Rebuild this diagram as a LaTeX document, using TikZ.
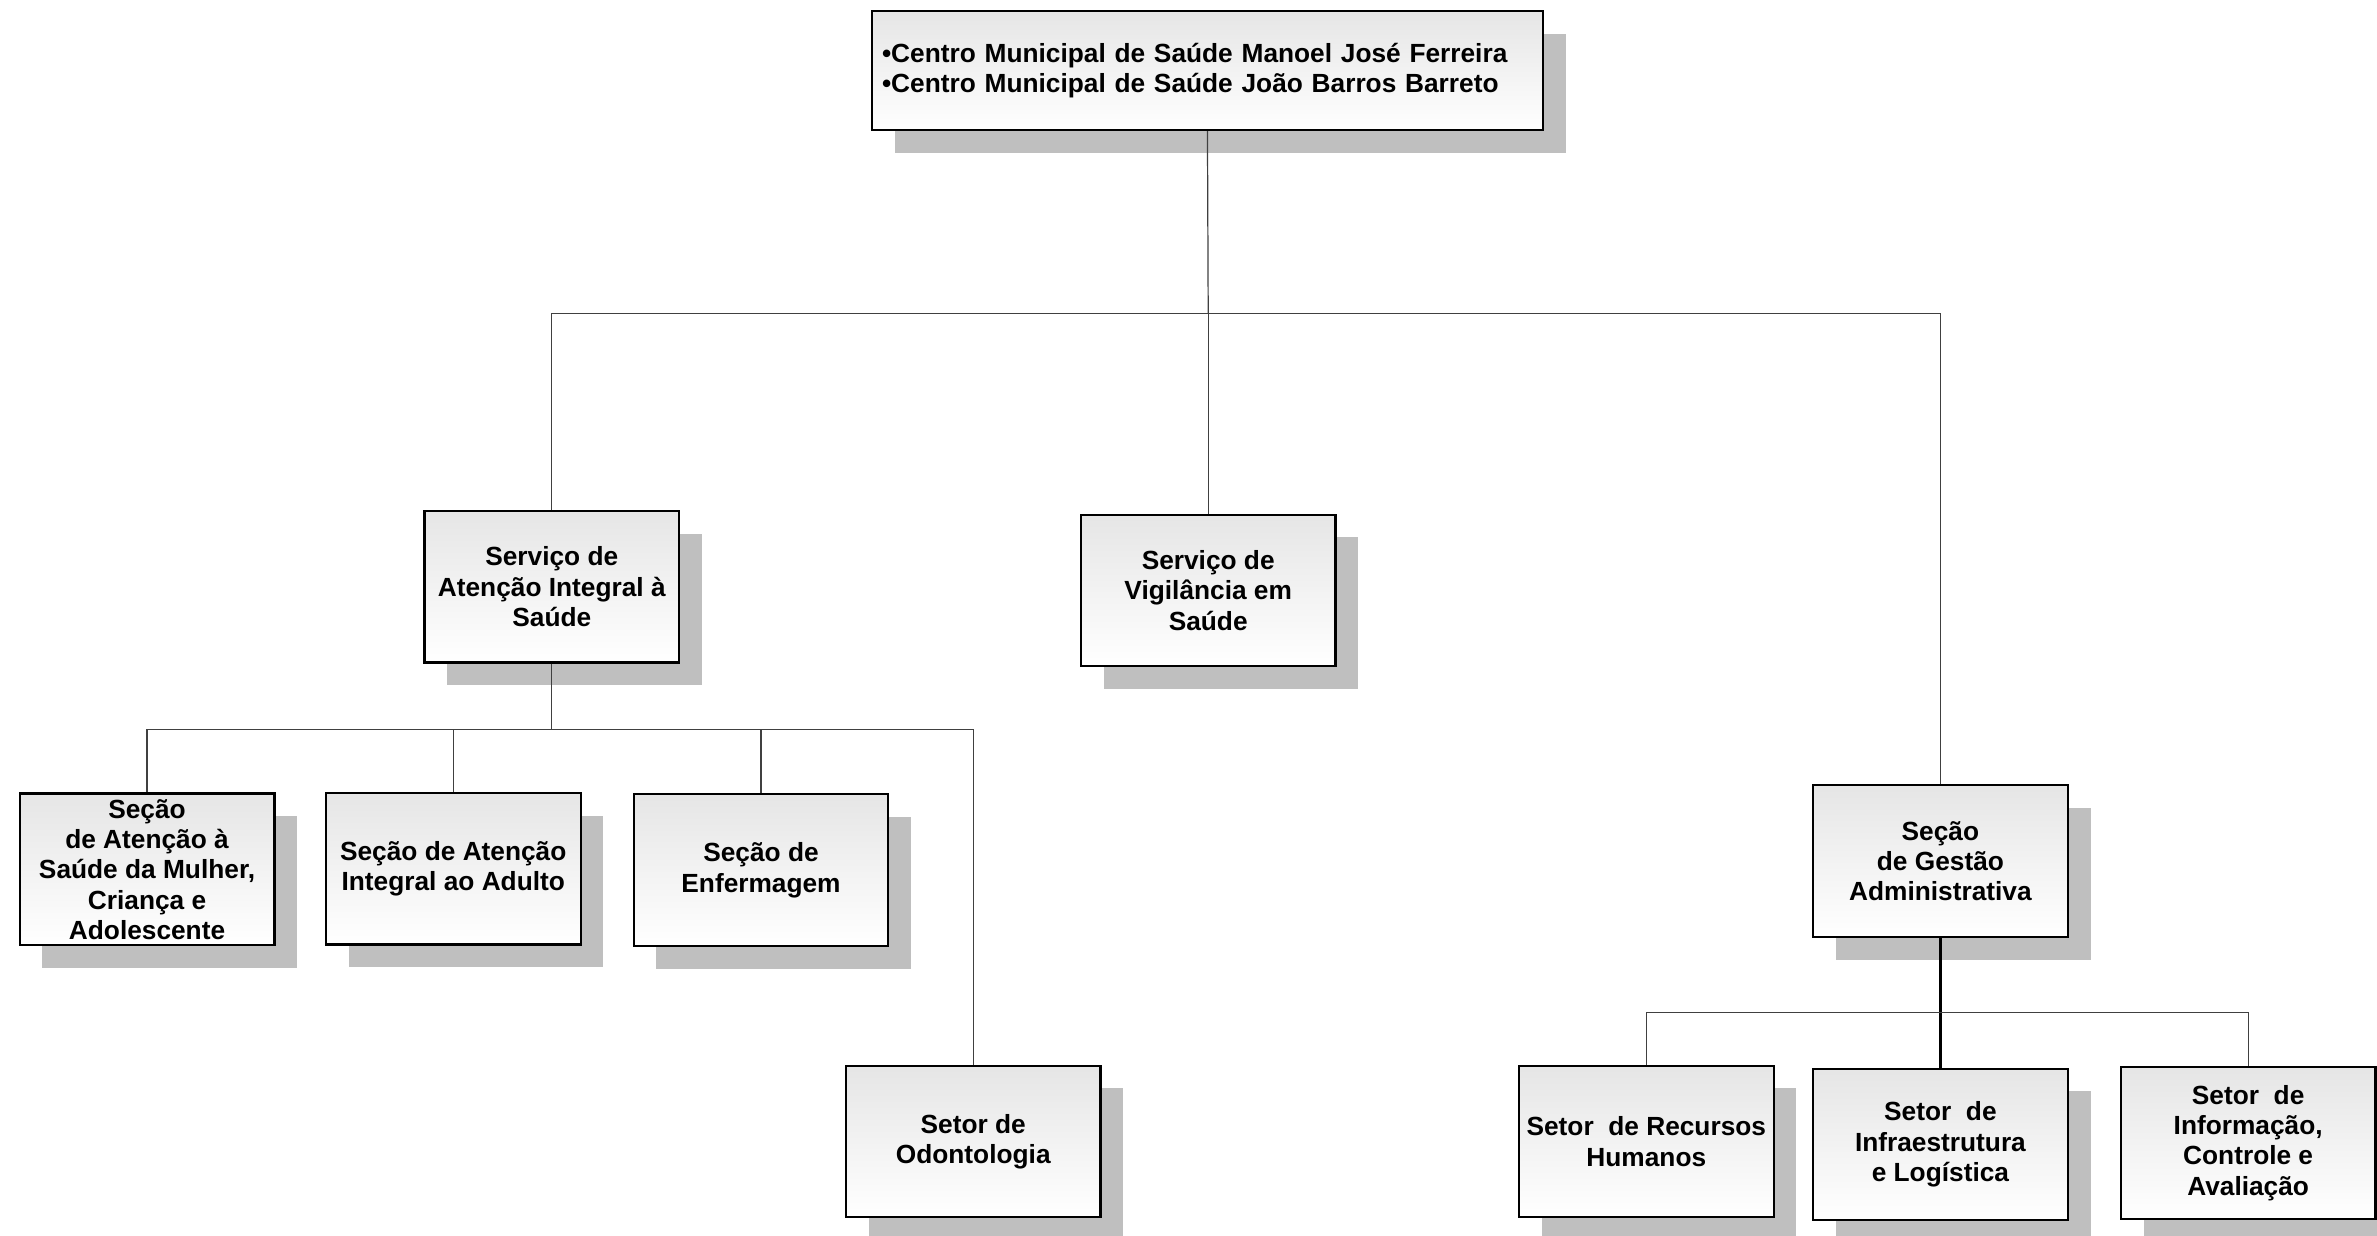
\documentclass[tikz,border=0pt]{standalone}
\usepackage{fontspec}
\setmainfont{Liberation Sans}
\usetikzlibrary{shadows,positioning}

\tikzset{
  unitbox/.style={rectangle, draw, line width=1.1pt, top color=gray!20, bottom color=white,
    minimum width=126pt, minimum height=75pt, inner sep=1pt, align=center,
    font=\fontsize{13}{15}\selectfont\bfseries,
    drop shadow={shadow xshift=11.25pt, shadow yshift=-11.25pt, fill=black!25, opacity=1}},
  headbox/.style={unitbox, minimum width=332pt, minimum height=59pt, align=left,
    text width=322pt, inner xsep=5pt},
  conn/.style={draw=black!75, line width=0.6pt},
  connthick/.style={draw=black, line width=1.1pt}
}

\begin{document}
\begin{tikzpicture}[x=0.75pt, y=-0.75pt]
    \useasboundingbox (0,0) rectangle (1568,815.3);
    % caixa do topo
    \node(centros) [headbox] at (796.5,46.5) {{\textbullet}Centro Municipal de Saúde Manoel José Ferreira\\{\textbullet}Centro Municipal de Saúde João Barros Barreto};
    % servicos
    \node(integral) [unitbox] at (364,387) {Serviço de\\Atenção Integral à\\Saúde};
    \node(vigilancia) [unitbox] at (797,389.5) {Serviço de\\Vigilância em\\Saúde};
    \node(gestao) [unitbox] at (1280,568) {Seção\\de Gestão\\Administrativa};
    % secoes do servico de atencao integral
    \node(mulher) [unitbox] at (97,573.5) {Seção\\de Atenção à\\Saúde da Mulher,\\Criança e\\Adolescente};
    \node(adulto) [unitbox] at (299,573) {Seção de Atenção\\Integral ao Adulto};
    \node(enfermagem) [unitbox] at (502,574) {Seção de\\Enfermagem};
    \node(odonto) [unitbox] at (642,753) {Setor de\\Odontologia};
    % setores da gestao
    \node(rh) [unitbox] at (1086,753) {Setor\ \ de Recursos\\Humanos};
    \node(infra) [unitbox] at (1280,755) {Setor\ \ de\\Infraestrutura\\e Logística};
    \node(info) [unitbox] at (1483,754) {Setor\ \ de\\Informação,\\Controle e\\Avaliação};

    \coordinate(barratopo) at (797,207);
    \coordinate(barraint) at (364,481);
    \coordinate(barragest) at (1280,668);

    \draw[conn] (centros.south) -- (barratopo);
    \draw[conn] (barratopo) -| (integral.north);
    \draw[conn] (barratopo) -- (vigilancia.north);
    \draw[conn] (barratopo) -| (gestao.north);

    \draw[conn] (integral.south) -- (barraint);
    \draw[conn] (barraint) -| (mulher.north);
    \draw[conn] (barraint) -| (adulto.north);
    \draw[conn] (barraint) -| (enfermagem.north);
    \draw[conn] (barraint) -| (odonto.north);

    \draw[connthick] (gestao.south) -- (infra.north);
    \draw[conn] (barragest) -| (rh.north);
    \draw[conn] (barragest) -| (info.north);
  \end{tikzpicture}
\end{document}
